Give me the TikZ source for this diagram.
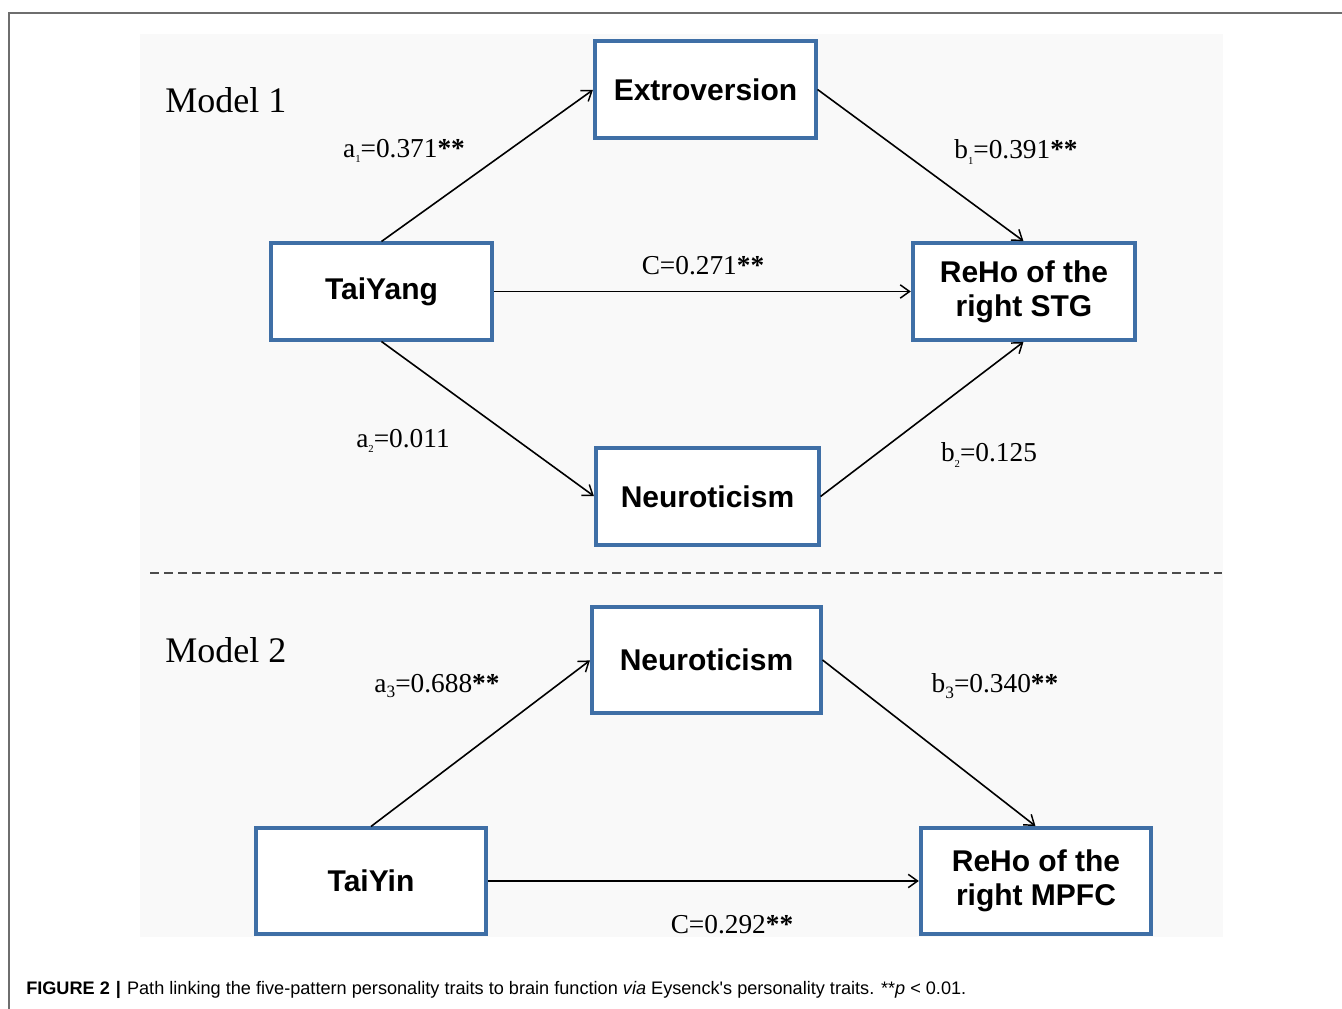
\documentclass[tikz,border=0pt]{standalone}
\usepackage{fontspec}
\setmainfont{Liberation Serif}
\newfontfamily\arialfont{Liberation Sans}
\usetikzlibrary{arrows.meta}
\definecolor{boxblue}{HTML}{3F6FA6}
\definecolor{panelgray}{HTML}{F9F9F9}
\definecolor{framegray}{HTML}{6E6E6E}
\newcommand\lsub[2]{\raisebox{-0.45ex}{\fontsize{#1}{#1}\selectfont #2}}
\newcommand\sigst{\textbf{**}}
\tikzset{
  varbox/.style={draw=boxblue, line width=2.3pt, fill=white, inner sep=0pt,
    align=center, font=\arialfont\bfseries\fontsize{22.5}{25.5}\selectfont},
  pathlbl/.style={inner sep=0pt, font=\fontsize{20.5}{22}\selectfont},
  modellbl/.style={inner sep=0pt, anchor=west, font=\fontsize{27}{30}\selectfont},
  arr/.style={line width=1.2pt, -{Straight Barb[length=7pt,width=10pt,line width=1.1pt]}, shorten >=0.5pt}
}
\begin{document}
\begin{tikzpicture}[x=0.75pt,y=-0.75pt]
\useasboundingbox (0,0) rectangle (1342,1009);
% frame
\draw[framegray, line width=1.5pt] (1342,13) -- (9,13) -- (9,1009);
% panel
\fill[panelgray] (140,34) rectangle (1223,937);
% dashed separator
\draw[black!70, line width=1.3pt, dash pattern=on 6.8pt off 3.7pt] (150,573) -- (1222,573);

% Model 1
\node[modellbl] (m1) at (165,100) {Model 1};
\node[varbox, minimum width=165.75pt, minimum height=72.75pt] (ext) at (705.5,89.5) {Extroversion};
\node[varbox, minimum width=165.75pt, minimum height=72.75pt] (ty) at (381.5,291.5) {TaiYang};
\node[varbox, minimum width=166.5pt, minimum height=72.75pt] (stg) at (1024,291.5) {ReHo of the\\right STG};
\node[varbox, minimum width=167.25pt, minimum height=72.75pt] (neu1) at (707.5,496.5) {Neuroticism};

\draw[arr] (ty.north) -- (ext.west);
\draw[arr] (ext.east) -- (stg.north);
\draw[arr] (ty.east) -- (stg.west);
\draw[arr] (ty.south) -- (neu1.west);
\draw[arr] (neu1.east) -- (stg.south);

\node[pathlbl] (la1) at (404,151) {a\lsub{8}{1}=0.371\sigst};
\node[pathlbl] (lb1) at (1016,152) {b\lsub{8}{1}=0.391\sigst};
\node[pathlbl] (lc1) at (703,266) {C=0.271\sigst};
\node[pathlbl] (la2) at (403,441) {a\lsub{8}{2}=0.011};
\node[pathlbl] (lb2) at (989,455) {b\lsub{8}{2}=0.125};

% Model 2
\node[modellbl] (m2) at (165,650) {Model 2};
\node[varbox, minimum width=171.75pt, minimum height=79.5pt] (neu2) at (706.5,660) {Neuroticism};
\node[varbox, minimum width=172.5pt, minimum height=79.5pt] (tyin) at (371,881) {TaiYin};
\node[varbox, minimum width=172.5pt, minimum height=79.5pt] (mpfc) at (1036,881) {ReHo of the\\right MPFC};

\draw[arr] (tyin.north) -- (neu2.west);
\draw[arr] (neu2.east) -- (mpfc.north);
\draw[arr] (tyin.east) -- (mpfc.west);

\node[pathlbl] (la3) at (437,686) {a\lsub{13}{3}=0.688\sigst};
\node[pathlbl] (lb3) at (995,686) {b\lsub{13}{3}=0.340\sigst};
\node[pathlbl] (lc2) at (732,925) {C=0.292\sigst};

% caption
\node[anchor=west, inner sep=0pt, font=\arialfont\fontsize{13.6}{15}\selectfont] (cap) at (26,990)
  {\textbf{FIGURE 2}\,\,\textbf{|}\,\,Path linking the five-pattern personality traits to brain function \textit{via} Eysenck's personality traits. **\textit{p} < 0.01.};
\end{tikzpicture}
\end{document}
